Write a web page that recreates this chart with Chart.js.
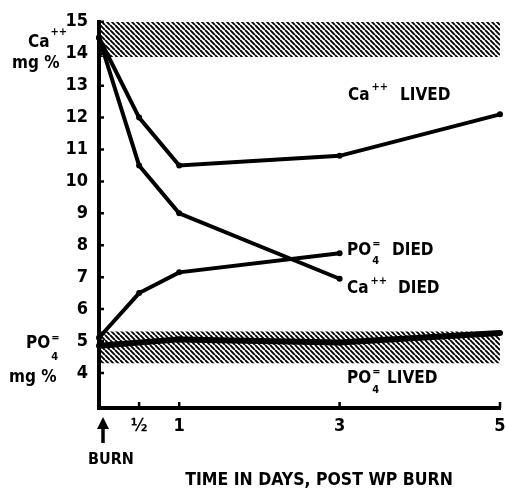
<!DOCTYPE html>
<html>
<head>
<meta charset="utf-8">
<script src="https://cdn.jsdelivr.net/npm/chart.js@4.4.1/dist/chart.umd.min.js"></script>
<style>
  html, body { margin: 0; padding: 0; background: #fff; }
  #wrap { width: 506px; height: 488px; position: relative; }
</style>
</head>
<body>
<div id="wrap"><canvas id="chart"></canvas></div>
<script>
// values
const days = [0, 0.5, 1, 3, 5];
const daysDied = [0, 0.5, 1, 3];
const daysPo4Lived = [0, 1, 3, 5];
const caLived = [14.5, 12.0, 10.5, 10.8, 12.1];
const caDied = [14.5, 10.5, 9.0, 6.95];
const po4Died = [5.1, 6.5, 7.15, 7.75];
const po4Lived = [4.85, 5.05, 4.95, 5.25];
// normal ranges (hatched bands)
const bandDays = [0, 5];
const caNormal = [13.9, 15.0];
const po4Normal = [4.3, 5.3];
// axes
const yTicks = [4, 5, 6, 7, 8, 9, 10, 11, 12, 13, 14, 15];
const xTicks = [0, 0.5, 1, 3, 5];
const xTickLabels = ['', '½', '1', '3', '5'];

const FONT = "'DejaVu Sans Condensed', 'DejaVu Sans', sans-serif";

const canvas = document.getElementById('chart');
const ctx = canvas.getContext('2d');

// diagonal hatch for the normal ranges
function makeHatch() {
  const s = 5;
  const c = document.createElement('canvas');
  c.width = s; c.height = s;
  const g = c.getContext('2d');
  g.strokeStyle = '#000';
  g.lineWidth = 1.9;
  g.beginPath();
  [-s, 0, s].forEach(o => { g.moveTo(o, 0); g.lineTo(o + s, s); });
  g.stroke();
  return ctx.createPattern(c, 'repeat');
}
const hatch = makeHatch();

const pts = (xs, ys) => xs.map((x, i) => ({ x: x, y: ys[i] }));
const band = v => bandDays.map(d => ({ x: d, y: v }));

function line(data, width) {
  return {
    data: data,
    borderColor: '#000',
    backgroundColor: '#000',
    borderWidth: width,
    pointRadius: 3,
    pointBorderWidth: 0,
    fill: false,
    tension: 0,
    clip: false
  };
}
function bandSet(v, fill) {
  return {
    data: band(v),
    borderWidth: 0,
    pointRadius: 0,
    backgroundColor: hatch,
    fill: fill,
    order: 10
  };
}

function txt(c, s, x, y, size) {
  c.font = `bold ${size}px ${FONT}`;
  c.fillText(s, x, y);
  return x + c.measureText(s).width;
}

const decorations = {
  id: 'decorations',
  afterDraw(chart) {
    const c = chart.ctx;
    const { x, y } = chart.scales;
    const a = chart.chartArea;
    c.save();
    // inner tick marks
    c.strokeStyle = '#000';
    c.lineWidth = 2.5;
    c.beginPath();
    yTicks.forEach(v => {
      const py = y.getPixelForValue(v);
      c.moveTo(a.left, py); c.lineTo(a.left + 5, py);
    });
    xTicks.slice(1).forEach(v => {
      const px = x.getPixelForValue(v);
      c.moveTo(px, a.bottom); c.lineTo(px, a.bottom - 6);
    });
    c.stroke();

    c.fillStyle = '#000';
    c.textBaseline = 'alphabetic';
    c.textAlign = 'left';
    let e;
    // axis unit labels
    e = txt(c, 'Ca', 28, 47, 17); txt(c, '++', e + 1, 35, 11);
    txt(c, 'mg %', 12, 68, 17);
    e = txt(c, 'PO', 26, 348, 17); txt(c, '=', e + 1, 341, 11); txt(c, '4', e + 1, 360, 11);
    txt(c, 'mg %', 9, 382, 17);

    // curve labels
    e = txt(c, 'Ca', 348, 100, 17); txt(c, '++', e + 2, 90, 11);
    txt(c, 'LIVED', 400, 100, 17);
    e = txt(c, 'PO', 347, 255, 17); txt(c, '=', e + 1, 247, 11); txt(c, '4', e + 1, 264, 11);
    txt(c, 'DIED', 392, 255, 17);
    e = txt(c, 'Ca', 347, 293, 17); txt(c, '++', e + 2, 284, 11);
    txt(c, 'DIED', 398, 293, 17);
    e = txt(c, 'PO', 347, 383, 17); txt(c, '=', e + 1, 375, 11); txt(c, '4', e + 1, 393, 11);
    txt(c, 'LIVED', 387, 383, 17);

    // burn arrow under day 0
    const bx = x.getPixelForValue(0) + 4;
    c.lineWidth = 3.5;
    c.beginPath(); c.moveTo(bx, 424); c.lineTo(bx, 443); c.stroke();
    c.beginPath(); c.moveTo(bx - 6, 429); c.lineTo(bx, 417); c.lineTo(bx + 6, 429); c.closePath(); c.fill();
    txt(c, 'BURN', 88, 464, 16);

    // axis title
    c.textAlign = 'center';
    txt(c, 'TIME IN DAYS, POST WP BURN', 319, 485, 17.5);
    c.restore();
  }
};

new Chart(ctx, {
  type: 'line',
  data: {
    datasets: [
      line(pts(days, caLived), 4),
      line(pts(daysDied, caDied), 4),
      line(pts(daysDied, po4Died), 4),
      line(pts(daysPo4Lived, po4Lived), 6),
      bandSet(caNormal[1], false),
      bandSet(caNormal[0], '-1'),
      bandSet(po4Normal[1], false),
      bandSet(po4Normal[0], '-1')
    ]
  },
  options: {
    responsive: true,
    maintainAspectRatio: false,
    animation: false,
    layout: { padding: { left: 0, right: 6, top: 19, bottom: 0 } },
    plugins: {
      legend: { display: false },
      tooltip: { enabled: false }
    },
    scales: {
      x: {
        type: 'linear',
        min: 0,
        max: 5,
        afterBuildTicks: s => { s.ticks = xTicks.map(v => ({ value: v })); },
        afterFit: s => { s.height = 80; s.paddingLeft = 0; s.paddingRight = 0; },
        grid: { display: false, drawTicks: false },
        border: { display: true, color: '#000', width: 4 },
        ticks: {
          color: '#000',
          padding: 8,
          maxRotation: 0,
          autoSkip: false,
          font: { family: FONT, size: 18, weight: 'bold' },
          callback: (v, i) => xTickLabels[i]
        }
      },
      y: {
        min: 2.9,
        max: 15,
        afterBuildTicks: s => { s.ticks = yTicks.map(v => ({ value: v })); },
        afterFit: s => { s.width = 99; },
        grid: { display: false, drawTicks: false },
        border: { display: true, color: '#000', width: 4 },
        ticks: {
          color: '#000',
          padding: 11,
          autoSkip: false,
          font: { family: FONT, size: 18, weight: 'bold' }
        }
      }
    }
  },
  plugins: [decorations]
});
</script>
</body>
</html>
